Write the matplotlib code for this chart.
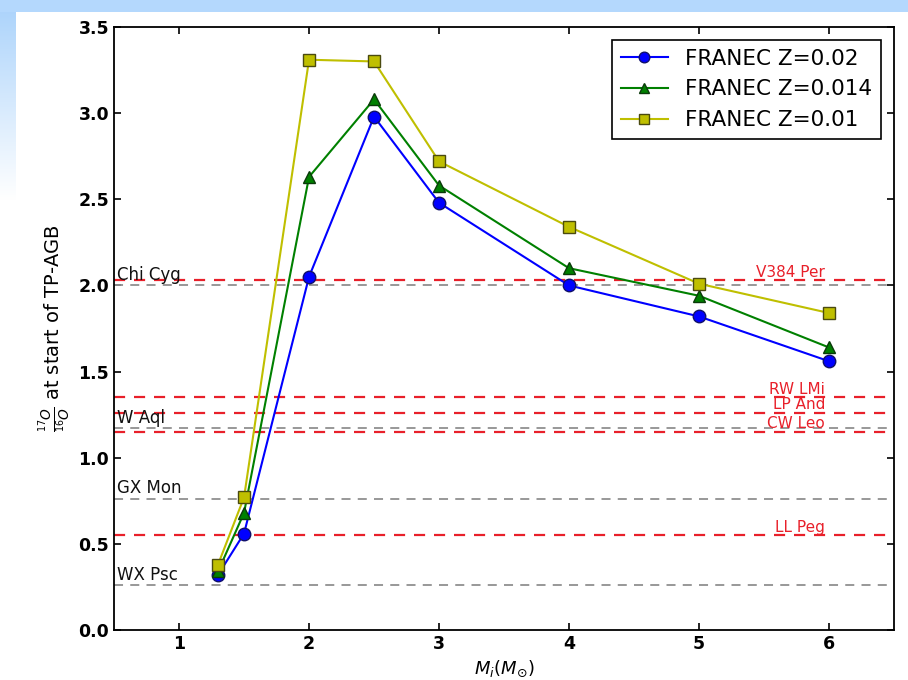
import numpy as np
import matplotlib
matplotlib.use('Agg')
import matplotlib.pyplot as plt

# Initial mass (solar masses)
mass = [1.3, 1.5, 2, 2.5, 3, 4, 5, 6]

# 17O/16O at the start of the TP-AGB phase for each metallicity
o17_z002 = [0.32, 0.56, 2.05, 2.98, 2.48, 2.00, 1.82, 1.56]
o17_z0014 = [0.34, 0.68, 2.63, 3.08, 2.58, 2.10, 1.94, 1.64]
o17_z001 = [0.38, 0.77, 3.31, 3.30, 2.72, 2.34, 2.01, 1.84]

# observed stars, grey (left labels) and red (right labels)
grey_stars = ['Chi Cyg', 'W Aql', 'GX Mon', 'WX Psc']
grey_vals = [2.00, 1.17, 0.76, 0.26]
red_stars = ['V384 Per', 'RW LMi', 'LP And', 'CW Leo', 'LL Peg']
red_vals = [2.03, 1.35, 1.26, 1.15, 0.55]

fig = plt.figure(figsize=(9.08, 6.8), dpi=100)

# slide background: blue strip on top, fading strip on the left
bg = fig.add_axes([0, 0, 1, 1], zorder=-10)
bg.set_xlim(0, 908)
bg.set_ylim(680, 0)
bg.axis('off')
grad = np.linspace(0, 1, 256).reshape(-1, 1)
bg.imshow(grad, extent=(0, 16, 200, 0), cmap=matplotlib.colors.LinearSegmentedColormap.from_list(
    'fade', ['#a9d2fb', '#ffffff']), aspect='auto')
bg.add_patch(plt.Rectangle((0, 0), 908, 12, color='#b4d8fd', lw=0))

ax = fig.add_axes([0.1256, 0.0735, 0.8590, 0.8868])

for name, v in zip(grey_stars, grey_vals):
    ax.axhline(v, color='#909090', ls='--', lw=1.3, dashes=(5, 4))
    ax.text(0.52, v + 0.01, name, ha='left', va='bottom', fontsize=12, color='#111111')
for name, v in zip(red_stars, red_vals):
    ax.axhline(v, color='#e8202a', ls='--', lw=1.6, dashes=(5, 4))
    ax.text(5.97, v + 0.003, name, ha='right', va='bottom', fontsize=11, color='#e8202a')

ax.plot(mass, o17_z002, '-o', color='#0000ff', lw=1.5, ms=9, mec='#10106a', label='FRANEC Z=0.02')
ax.plot(mass, o17_z0014, '-^', color='#008000', lw=1.5, ms=9, mec='#0a3a0a', label='FRANEC Z=0.014')
ax.plot(mass, o17_z001, '-s', color='#bfbf00', lw=1.5, ms=9, mec='#4a4a10', label='FRANEC Z=0.01')

ax.set_xlim(0.5, 6.5)
ax.set_ylim(0, 3.5)
ax.set_xticks([1, 2, 3, 4, 5, 6])
ax.set_yticks(np.arange(0, 3.51, 0.5))
ax.tick_params(direction='in', top=True, right=True, length=5, width=1.2, labelsize=12.5)
for lab in ax.get_xticklabels() + ax.get_yticklabels():
    lab.set_fontweight('bold')
for s in ax.spines.values():
    s.set_linewidth(1.3)

ax.set_xlabel(r'$M_i(M_{\odot})$', fontsize=13)
ax.set_ylabel(r'$\frac{^{17}O}{^{16}O}$ at start of TP-AGB', fontsize=14)

leg = ax.legend(loc='upper right', fontsize=15.5, fancybox=False, edgecolor='black',
                handlelength=2.2, borderaxespad=0.6, framealpha=1, markerscale=0.85)
leg.get_frame().set_linewidth(1.2)

fig.savefig('out.png', dpi=100)
